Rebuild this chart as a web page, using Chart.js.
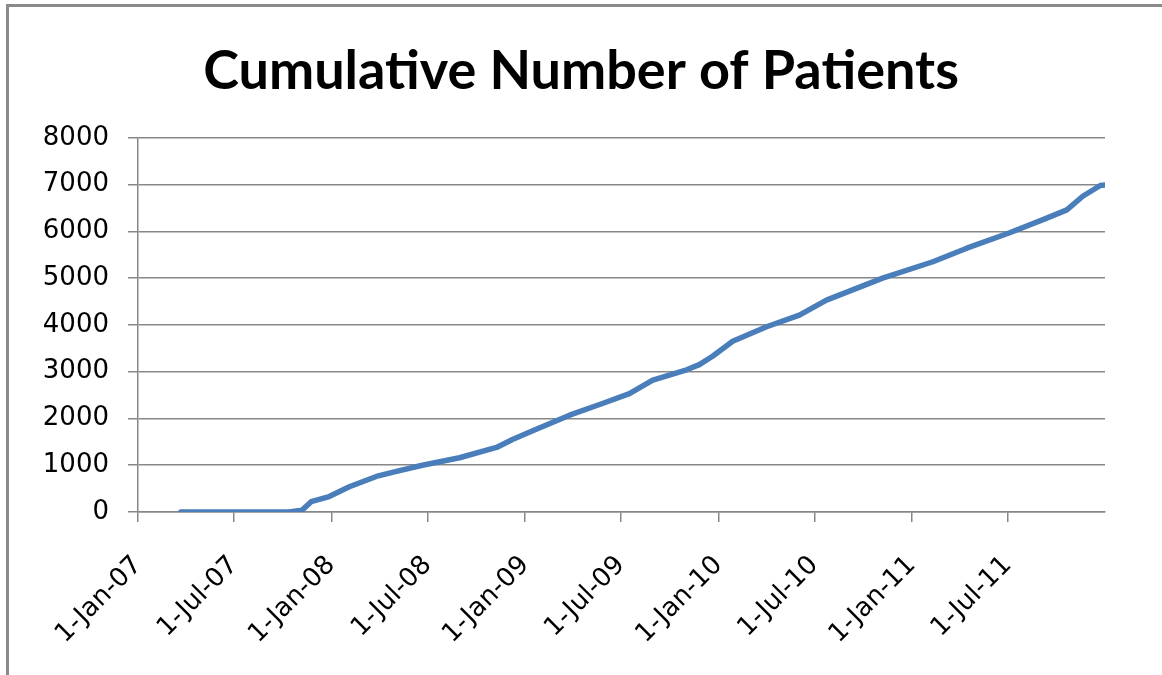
<!DOCTYPE html>
<html>
<head>
<meta charset="utf-8">
<script src="https://cdn.jsdelivr.net/npm/chart.js@4.4.1/dist/chart.umd.min.js"></script>
<style>
  html, body { margin: 0; padding: 0; background: #fff; }
  #wrap { position: relative; width: 1162px; height: 675px; }
  #frame { position: absolute; left: 6px; top: 4px; right: 0; bottom: 0;
           border-top: 3px solid #8a8a8a; border-left: 3px solid #8a8a8a; pointer-events: none; }
</style>
</head>
<body>
<div id="wrap">
  <canvas id="patientsChart" width="1162" height="675"></canvas>
  <div id="frame"></div>
</div>
<script>
// cumulative patient count
const obsDates = ['2007-03-23', '2007-10-13', '2007-11-07', '2007-11-24', '2007-12-28', '2008-02-04',
  '2008-03-26', '2008-05-03', '2008-06-21', '2008-08-30', '2008-11-08', '2008-12-08', '2009-01-22',
  '2009-03-26', '2009-05-27', '2009-07-17', '2009-08-30', '2009-11-02', '2009-11-26', '2009-12-21',
  '2010-01-28', '2010-04-02', '2010-06-03', '2010-07-24', '2010-11-07', '2011-02-10', '2011-04-15',
  '2011-07-05', '2011-09-06', '2011-10-21', '2011-11-20', '2011-12-23', '2012-01-01'];
const patients = [0, 0, 40, 220, 330, 540,
  760, 870, 1000, 1160, 1380, 1550, 1770,
  2070, 2320, 2530, 2820, 3040, 3150, 3330,
  3650, 3960, 4210, 4530, 5000, 5350, 5640,
  5970, 6250, 6460, 6750, 6980, 6990];

const tickDates = ['2007-01-01', '2007-07-01', '2008-01-01', '2008-07-01', '2009-01-01',
  '2009-07-01', '2010-01-01', '2010-07-01', '2011-01-01', '2011-07-01'];
const tickLabels = ['1-Jan-07', '1-Jul-07', '1-Jan-08', '1-Jul-08', '1-Jan-09',
  '1-Jul-09', '1-Jan-10', '1-Jul-10', '1-Jan-11', '1-Jul-11'];
const axisEnd = '2012-01-01';

const yTicks = [0, 1000, 2000, 3000, 4000, 5000, 6000, 7000, 8000];

// days since 1-Jan-07
function dayOf(s) {
  var p = s.split('-');
  return (Date.UTC(+p[0], +p[1] - 1, +p[2]) - Date.UTC(2007, 0, 1)) / 86400000;
}

var points = obsDates.map(function (d, i) { return { x: dayOf(d), y: patients[i] }; });

var gridGrey = '#878787';
var labelFont = { family: 'DejaVu Sans', size: 26 };

var ctx = document.getElementById('patientsChart').getContext('2d');
var patientsChart = new Chart(ctx, {
  type: 'line',
  data: {
    datasets: [{
      label: 'Patients',
      data: points,
      borderColor: 'rgb(74, 126, 187)',
      borderWidth: 5.5,
      pointRadius: 0,
      tension: 0,
      borderCapStyle: 'round',
      borderJoinStyle: 'round'
    }]
  },
  options: {
    responsive: false,
    animation: false,
    layout: { padding: 0 },
    plugins: {
      legend: { display: false },
      tooltip: { enabled: false },
      title: {
        display: true,
        text: 'Cumulative Number of Patients',
        color: '#000',
        font: { family: 'Lato', size: 54, weight: 'bold' },
        padding: { top: 39, bottom: 34 }
      }
    },
    scales: {
      x: {
        type: 'linear',
        min: 0,
        max: dayOf(axisEnd),
        afterBuildTicks: function (scale) {
          scale.ticks = tickDates.map(function (d) { return { value: dayOf(d) }; });
        },
        afterFit: function (scale) { scale.height = 163; },
        grid: { drawOnChartArea: false, color: gridGrey, tickLength: 10, lineWidth: 1.5 },
        border: { color: gridGrey, width: 1.5 },
        ticks: {
          autoSkip: false,
          minRotation: 45,
          maxRotation: 45,
          padding: 28,
          color: '#000',
          font: labelFont,
          callback: function (value, index) { return tickLabels[index]; }
        }
      },
      y: {
        min: 0,
        max: 8000,
        afterBuildTicks: function (scale) {
          scale.ticks = yTicks.map(function (v) { return { value: v }; });
        },
        afterFit: function (scale) { scale.width = 138; },
        grid: { color: gridGrey, tickLength: 10, lineWidth: 1.5 },
        border: { color: gridGrey, width: 1.5 },
        ticks: {
          padding: 19,
          color: '#000',
          font: labelFont,
          callback: function (value) { return String(value); }
        }
      },
      // empty right-hand strip, leaves the blank margin right of the plot
      yRight: {
        position: 'right',
        afterFit: function (scale) { scale.width = 57; },
        grid: { display: false },
        border: { display: false },
        ticks: { display: false }
      }
    }
  }
});
</script>
</body>
</html>
